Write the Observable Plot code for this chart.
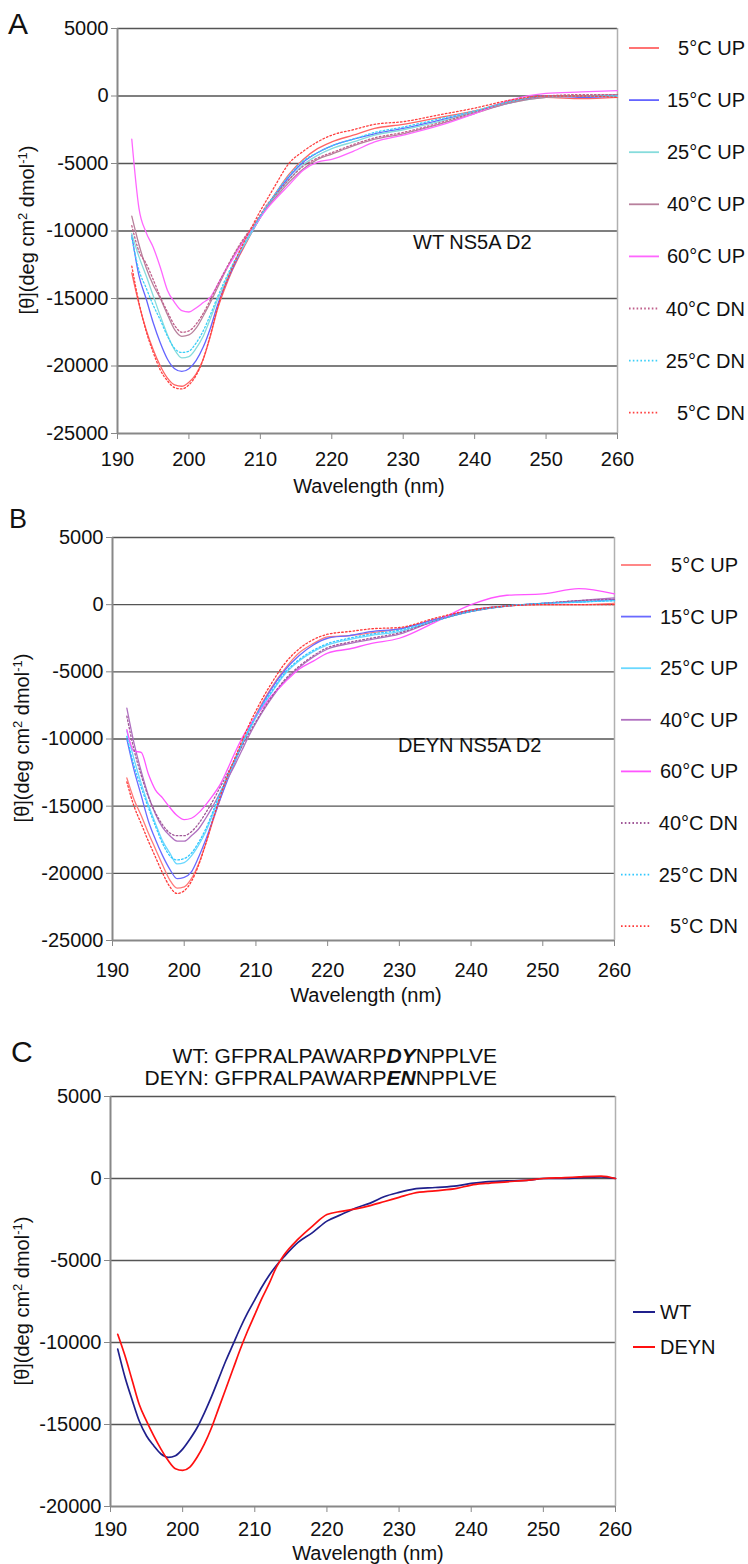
<!DOCTYPE html>
<html><head><meta charset="utf-8">
<script src="https://cdn.jsdelivr.net/npm/d3@7"></script>
<script src="https://cdn.jsdelivr.net/npm/@observablehq/plot@0.6"></script>
<style>
body{margin:0;background:#fff;}
#root{position:relative;width:748px;height:1564px;overflow:hidden;font-family:"Liberation Sans",Arial,sans-serif;color:#111;}
#root svg{position:absolute;left:0;}
</style></head><body><div id="root"></div>
<script>
// ---------- data ----------
const xDomain = [190, 260];
const xTicks = [190, 200, 210, 220, 230, 240, 250, 260];
const yDomainAB = [-25000, 5000];
const yTicksAB = [5000, 0, -5000, -10000, -15000, -20000, -25000];
const yDomainC = [-20000, 5000];
const yTicksC = [5000, 0, -5000, -10000, -15000, -20000];

const seriesNames = ["5°C UP", "15°C UP", "25°C UP", "40°C UP", "60°C UP", "40°C DN", "25°C DN", "5°C DN"];
const wavelengthsAB = [192,193,194,195,196,197,198,199,200,201,202,203,204,205,206,207,208,209,210,211,212,214,216,218,220,223,226,230,235,240,245,250,255,260];

// Panel A: WT NS5A D2
const a5UP  = [-13100,-15400,-17300,-18800,-20000,-20900,-21400,-21500,-21200,-20600,-19500,-17800,-15800,-14300,-13000,-11900,-10900,-9900,-9000,-8100,-7300,-5800,-4700,-3900,-3400,-2900,-2400,-2100,-1600,-1100,-400,-100,-200,-100];
const a15UP = [-10300,-13300,-15000,-16800,-18300,-19500,-20200,-20400,-20200,-19600,-18600,-17200,-15500,-14100,-12900,-11800,-10800,-9900,-9000,-8200,-7400,-6000,-4900,-4200,-3700,-3200,-2800,-2400,-1800,-1200,-500,0,-100,0];
const a25UP = [-10200,-11900,-13300,-14800,-16300,-17700,-18800,-19400,-19300,-18700,-17800,-16500,-15100,-13900,-12700,-11700,-10800,-9900,-9000,-8200,-7500,-6200,-5100,-4400,-3900,-3400,-2900,-2500,-1900,-1200,-500,-100,0,0];
const a40UP = [-8900,-11000,-12700,-14000,-15000,-16200,-17300,-17800,-17700,-17200,-16300,-15300,-14200,-13100,-12100,-11200,-10400,-9700,-8900,-8200,-7600,-6400,-5400,-4700,-4300,-3700,-3200,-2800,-2100,-1300,-500,-100,0,100];
const a60UP = [-3200,-8300,-10100,-11200,-12700,-14400,-15300,-15900,-16000,-15700,-15300,-14900,-14000,-13000,-12200,-11300,-10500,-9800,-9000,-8300,-7700,-6600,-5500,-4900,-4700,-4100,-3400,-2900,-2200,-1300,-300,200,300,400];
const a40DN = [-9600,-11500,-12400,-13600,-14900,-16000,-17000,-17500,-17400,-16900,-16100,-15100,-14000,-13000,-12000,-11100,-10300,-9600,-8800,-8000,-7400,-6200,-5200,-4600,-4200,-3600,-3100,-2700,-2000,-1200,-400,0,100,100];
const a25DN = [-10500,-12900,-14200,-15500,-16600,-17800,-18700,-19000,-18900,-18300,-17400,-16200,-14900,-13700,-12600,-11600,-10700,-9800,-8900,-8100,-7300,-5900,-4800,-4200,-3700,-3200,-2700,-2300,-1700,-1100,-400,0,0,0];
const a5DN  = [-12600,-15300,-17400,-19000,-20300,-21100,-21600,-21700,-21400,-20700,-19500,-17700,-15700,-14100,-12800,-11600,-10500,-9500,-8500,-7600,-6700,-5000,-4100,-3400,-2900,-2500,-2100,-1900,-1400,-900,-300,0,0,-100];

// Panel B: DEYN NS5A D2
const b5UP  = [-12900,-14500,-15700,-17000,-18200,-19400,-20500,-21100,-21000,-20400,-19300,-17800,-16100,-14500,-13000,-11700,-10400,-9300,-8200,-7200,-6300,-4800,-3600,-2900,-2400,-2300,-2100,-1800,-1100,-400,-100,0,0,100];
const b15UP = [-10000,-12300,-14200,-16100,-17500,-18700,-19700,-20400,-20300,-19900,-18800,-17500,-16000,-14500,-13100,-11800,-10500,-9400,-8300,-7300,-6400,-4900,-3800,-3000,-2500,-2300,-2000,-1800,-1100,-400,-100,100,200,400];
const b25UP = [-9400,-11500,-13300,-14900,-16300,-17600,-18500,-19300,-19200,-18700,-17900,-16900,-15600,-14200,-12900,-11700,-10500,-9400,-8400,-7500,-6700,-5200,-4200,-3500,-3000,-2600,-2300,-2000,-1200,-500,-100,100,200,300];
const b40UP = [-7700,-10300,-12400,-14200,-15600,-16600,-17200,-17600,-17600,-17200,-16700,-15900,-15000,-14000,-13000,-12000,-10900,-9800,-8800,-7900,-7100,-5700,-4700,-3900,-3300,-2900,-2600,-2200,-1200,-500,-100,100,300,500];
const b60UP = [-9300,-10900,-11000,-12600,-13800,-14400,-15100,-15700,-16000,-15900,-15500,-14900,-14200,-13400,-12300,-11100,-10000,-9100,-8300,-7600,-6900,-5800,-4800,-4200,-3600,-3300,-2900,-2500,-1300,0,700,800,1200,800];
const b40DN = [-8300,-10800,-12700,-14300,-15500,-16400,-17000,-17200,-17200,-16900,-16300,-15500,-14600,-13600,-12600,-11600,-10600,-9600,-8700,-7800,-7000,-5600,-4600,-3800,-3200,-2800,-2500,-2100,-1200,-500,-100,100,300,400];
const b25DN = [-9800,-12000,-13600,-15100,-16500,-17800,-18700,-19000,-18900,-18500,-17700,-16700,-15400,-14000,-12800,-11600,-10400,-9300,-8300,-7400,-6600,-5100,-4100,-3400,-2900,-2500,-2200,-1900,-1200,-500,-100,100,200,300];
const b5DN  = [-13200,-15000,-16300,-17600,-18800,-20000,-21000,-21500,-21300,-20600,-19400,-17800,-16000,-14300,-12800,-11500,-10200,-9000,-7900,-6900,-6000,-4400,-3300,-2600,-2200,-2000,-1800,-1700,-1000,-400,-100,0,0,0];

// Panel C: WT vs DEYN
const seriesNamesC = ["WT", "DEYN"];
const wavelengthsC = [191,192,193,194,195,196,197,198,199,200,201,202,203,204,205,206,207,208,209,210,211,212,213,214,216,218,220,222,224,226,228,230,232,235,238,240,242,245,248,250,253,255,258,260];
const cWT   = [-10400,-12100,-13500,-14800,-15700,-16300,-16800,-17000,-16900,-16500,-15900,-15200,-14300,-13300,-12200,-11100,-10100,-9100,-8200,-7400,-6600,-5900,-5300,-4800,-3900,-3300,-2600,-2200,-1800,-1500,-1100,-850,-650,-550,-450,-300,-200,-150,-100,0,0,50,100,0];
const cDEYN = [-9500,-10800,-12300,-13800,-14800,-15700,-16500,-17200,-17700,-17800,-17600,-17000,-16200,-15200,-14000,-12800,-11600,-10400,-9300,-8300,-7300,-6400,-5400,-4700,-3700,-2900,-2200,-2000,-1850,-1650,-1400,-1150,-900,-750,-600,-400,-300,-200,-100,0,50,100,150,0];

// ---------- styles ----------
const FONT = '"Liberation Sans", Arial, sans-serif';
const colorsA = ["#ff6464", "#6464ff", "#86dcdc", "#b8809c", "#ff66ff", "#c0608c", "#3cd0f8", "#ff4040"];
const colorsB = ["#ff7a7a", "#6a6aff", "#6ad8ff", "#b070c0", "#ff55ff", "#a05898", "#30c8ff", "#ff3838"];
const dottedFlags = [false, false, false, false, false, true, true, true];
const colorsC = ["#20208c", "#ff1010"];

const root = document.getElementById("root");

function tidy(wl, arrays, names) {
  return arrays.map((vals, i) => wl.map((w, j) => ({w, v: vals[j], s: names[i]})));
}

function panel(cfg) {
  const {top, height, mt, mb, ml, mr, yDomain, yTicks, tables, colors, dotted, xPad, sw} = cfg;
  const marks = [
    Plot.gridY(yTicks.filter(t => t > yDomain[0]), {stroke: "#555", strokeOpacity: 1, strokeWidth: 1.4}),
    Plot.ruleX([xDomain[1]], {stroke: "#b0b0b0", strokeWidth: 1.5}),
    Plot.ruleX([xDomain[0]], {stroke: "#888", strokeWidth: 2}),
    Plot.ruleY([yDomain[0]], {stroke: "#888", strokeWidth: 2}),
    Plot.axisY(yTicks, {tickSize: 6, tickPadding: 3, stroke: "#888", fill: "#111", tickFormat: d => String(d), label: null}),
    Plot.axisX(xTicks, {tickSize: 6, tickPadding: xPad, stroke: "#888", fill: "#111", tickFormat: d => String(d), label: null})
  ];
  tables.forEach((rows, i) => {
    marks.push(Plot.line(rows, {
      x: "w", y: "v", stroke: colors[i], strokeWidth: sw,
      strokeDasharray: dotted && dotted[i] ? "1.6,2.2" : null,
      curve: "monotone-x"
    }));
  });
  const svg = Plot.plot({
    width: 748, height,
    marginTop: mt, marginBottom: mb, marginLeft: ml, marginRight: mr,
    x: {domain: xDomain}, y: {domain: yDomain},
    style: {fontFamily: FONT, fontSize: "20px", background: "transparent", overflow: "visible", color: "#111"},
    marks
  });
  svg.style.top = top + "px";
  root.appendChild(svg);
}

panel({top: 0, height: 500, mt: 28, mb: 67, ml: 117, mr: 131,
  yDomain: yDomainAB, yTicks: yTicksAB, xPad: 12, sw: 1.3,
  tables: tidy(wavelengthsAB, [a5UP, a15UP, a25UP, a40UP, a60UP, a40DN, a25DN, a5DN], seriesNames),
  colors: colorsA, dotted: dottedFlags});

panel({top: 509, height: 498, mt: 28, mb: 67, ml: 112, mr: 134,
  yDomain: yDomainAB, yTicks: yTicksAB, xPad: 16, sw: 1.3,
  tables: tidy(wavelengthsAB, [b5UP, b15UP, b25UP, b40UP, b60UP, b40DN, b25DN, b5DN], seriesNames),
  colors: colorsB, dotted: dottedFlags});

panel({top: 1068, height: 496, mt: 28, mb: 58, ml: 110, mr: 133,
  yDomain: yDomainC, yTicks: yTicksC, xPad: 9, sw: 1.7,
  tables: tidy(wavelengthsC, [cWT, cDEYN], seriesNamesC),
  colors: colorsC, dotted: null});

// ---------- overlay text & legends ----------
const ov = d3.select(root).append("svg")
  .attr("width", 748).attr("height", 1564)
  .style("top", "0px").style("pointer-events", "none")
  .attr("font-family", FONT).attr("fill", "#111");

// panel letters
[["A", 8, 34, 30], ["B", 9, 528, 27], ["C", 11, 1062, 30]].forEach(([t, x, y, fs]) =>
  ov.append("text").attr("x", x).attr("y", y).attr("font-size", fs).text(t));

// x axis titles
[[369, 493], [366, 1002], [368, 1560]].forEach(([x, y]) =>
  ov.append("text").attr("x", x).attr("y", y).attr("font-size", 20).attr("text-anchor", "middle").text("Wavelength (nm)"));

// y axis titles
[[34, 230], [29, 738], [29, 1301]].forEach(([x, y]) => {
  const t = ov.append("text").attr("transform", `translate(${x},${y}) rotate(-90)`)
    .attr("font-size", 20).attr("text-anchor", "middle");
  t.append("tspan").text("[θ](deg cm");
  t.append("tspan").attr("dy", -7).attr("font-size", 13).text("2");
  t.append("tspan").attr("dy", 7).text(" dmol");
  t.append("tspan").attr("dy", -7).attr("font-size", 13).text("-1");
  t.append("tspan").attr("dy", 7).text(")");
});

// annotations inside plots
ov.append("text").attr("x", 413).attr("y", 249).attr("font-size", 20).text("WT NS5A D2");
ov.append("text").attr("x", 398).attr("y", 752).attr("font-size", 20).text("DEYN NS5A D2");

// C title
[["WT: GFPRALPAWARP", "DY", "NPPLVE", 1063], ["DEYN: GFPRALPAWARP", "EN", "NPPLVE", 1085]].forEach(([a, b, c, y]) => {
  const t = ov.append("text").attr("x", 497).attr("y", y).attr("font-size", 21).attr("text-anchor", "end");
  t.append("tspan").text(a);
  t.append("tspan").attr("font-weight", "bold").attr("font-style", "italic").text(b);
  t.append("tspan").text(c);
});

// legends A and B
function legend(y0, step, x1, x2, xText, colors) {
  seriesNames.forEach((name, i) => {
    const y = y0 + i * step;
    ov.append("line").attr("x1", x1).attr("x2", x2).attr("y1", y).attr("y2", y)
      .attr("stroke", colors[i]).attr("stroke-width", 1.8)
      .attr("stroke-dasharray", dottedFlags[i] ? "1.6,2.2" : null);
    ov.append("text").attr("x", xText).attr("y", y + 7).attr("font-size", 20)
      .attr("text-anchor", "end").text(name);
  });
}
legend(48, 52.1, 629, 659, 745, colorsA);
legend(565, 51.6, 621, 651, 738, colorsB);

// legend C
seriesNamesC.forEach((name, i) => {
  const y = 1312 + i * 35;
  ov.append("line").attr("x1", 633).attr("x2", 655).attr("y1", y).attr("y2", y)
    .attr("stroke", colorsC[i]).attr("stroke-width", 2);
  ov.append("text").attr("x", 660).attr("y", y + 7).attr("font-size", 20).text(name);
});
</script></body></html>
